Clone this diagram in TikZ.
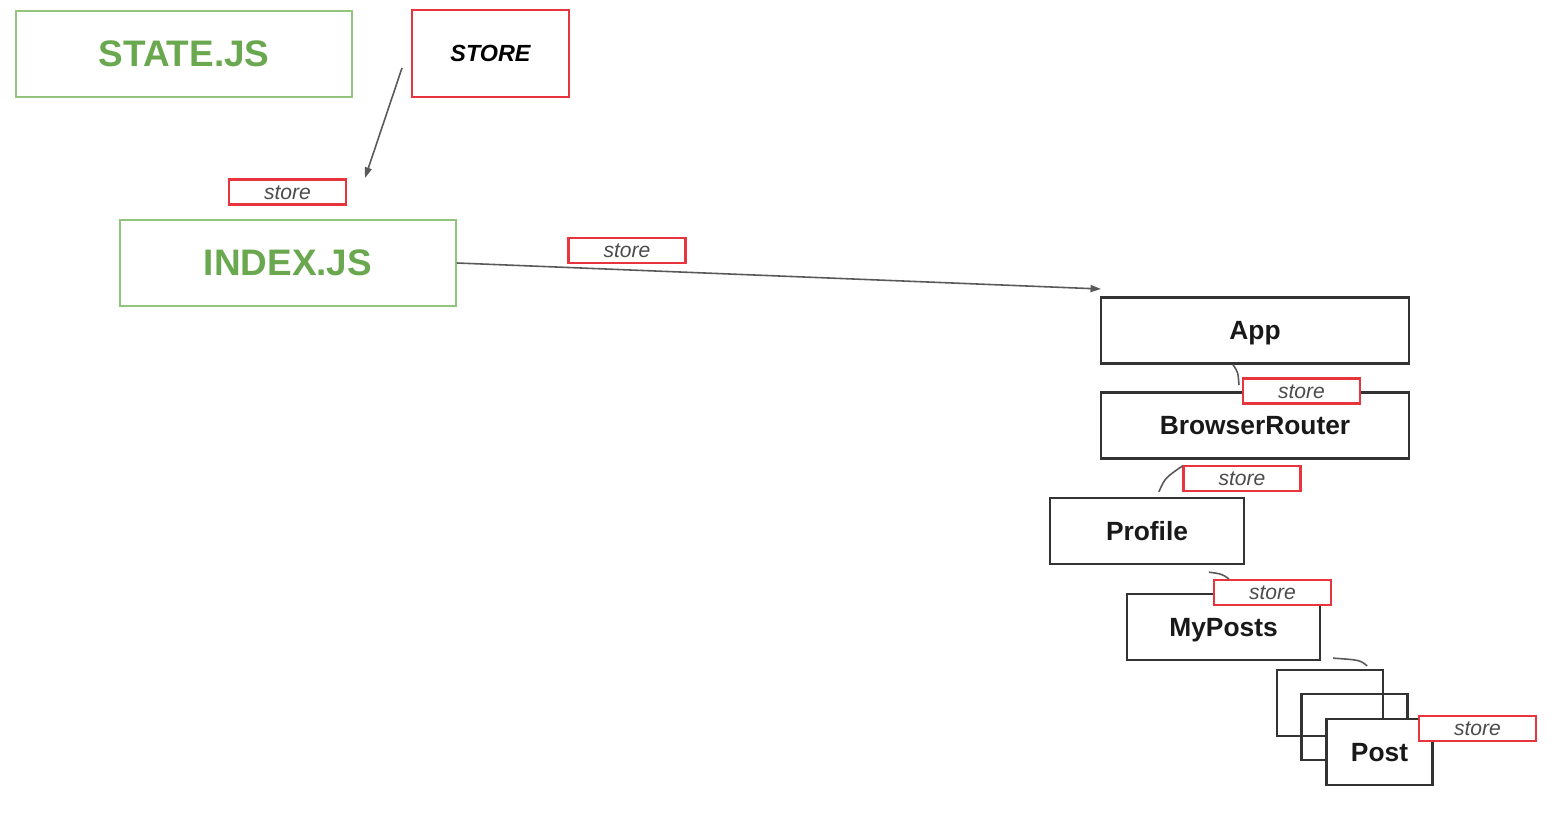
\documentclass[tikz,border=0pt]{standalone}
\usepackage{fontspec}
\setmainfont{Liberation Sans}
\usetikzlibrary{calc,arrows.meta}
\definecolor{jsgreen}{HTML}{6AA84F}
\definecolor{jsgreenline}{HTML}{93C47D}
\definecolor{storered}{HTML}{E8343C}
\definecolor{boxline}{HTML}{333333}

\begin{document}
\begin{tikzpicture}[x=0.02cm,y=-0.02cm,
    file/.style={draw=jsgreenline,line width=1.1pt,inner sep=0,minimum width=6.72cm,minimum height=1.72cm,
      text=jsgreen,text height=19pt,text depth=4.45pt,font=\fontsize{21}{21}\selectfont\bfseries},
    comp/.style={draw=boxline,fill=white,line width=1.3pt,inner sep=0,minimum height=1.32cm,
      text=black!90,text height=13.6pt,text depth=3.2pt,font=\fontsize{15}{15}\selectfont\bfseries},
    tag/.style={draw=storered,fill=white,line width=1.2pt,inner sep=0,minimum width=2.34cm,minimum height=0.5cm,
      text=black!70,text height=10.9pt,text depth=2.5pt,font=\fontsize{12}{12}\selectfont\itshape},
    link/.style={draw=black!65,line width=0.9pt},
    pass/.style={link,-{Triangle[length=6pt,width=4pt]}}]
    \fill[white] (0,0) rectangle (1564,824);

    % files
    \node[file] (state) at (184,54) {STATE.JS};
    \node[file] (index) at (288,263) {INDEX.JS};
    \node[draw=storered,line width=1.2pt,inner sep=0,minimum width=3.14cm,minimum height=1.74cm,
      text height=12pt,text depth=2.8pt,
      font=\fontsize{13.3}{13.3}\selectfont\bfseries\itshape] (bigstore) at (490.5,53.5) {STORE};
    \node[tag] (t0) at (287.5,192) {store};
    \node[tag] (t1) at (627,250.5) {store};

    \coordinate (a1) at (402,68);
    \coordinate (a2) at (365,178);
    \coordinate (a3) at (1101,289);
    \draw[pass] (a1)--(a2);
    \draw[pass] (index.east)--(a3);

    % components
    \node[comp,minimum width=6.16cm] (app) at (1255,330.5) {App};
    \node[comp,minimum width=6.16cm] (router) at (1255,425.5) {BrowserRouter};
    \node[comp,minimum width=3.88cm] (profile) at (1147,531) {Profile};
    \node[comp,minimum width=3.86cm] (myposts) at (1223.5,627) {MyPosts};
    \node[comp,fill=none,minimum width=2.12cm] (post1) at (1330,703) {};
    \node[comp,fill=none,minimum width=2.12cm] (post2) at (1354.5,727) {};
    \node[comp,minimum width=2.12cm] (post3) at (1379.5,752) {Post};

    \node[tag] (t2) at (1301.5,391) {store};
    \node[tag] (t3) at (1242,478.5) {store};
    \node[tag] (t4) at (1272.5,592.5) {store};
    \node[tag] (t5) at (1477.5,728.5) {store};

    \draw[link] ($(app.south west)+(133,0)$) .. controls (1238,372) .. ($(t2.west)+(-3,-6)$);
    \draw[link] ($(profile.north west)+(110,-5)$) .. controls (1165,478) .. ($(t3.north west)+(0,1)$);
    \draw[link] ($(profile.south west)+(160,7)$) .. controls (1222,574) .. ($(t4.north west)+(16,0)$);
    \draw[link] ($(myposts.south east)+(12,-3)$) .. controls (1360,660) .. ($(post1.north east)+(-17,-3)$);
  \end{tikzpicture}
\end{document}
